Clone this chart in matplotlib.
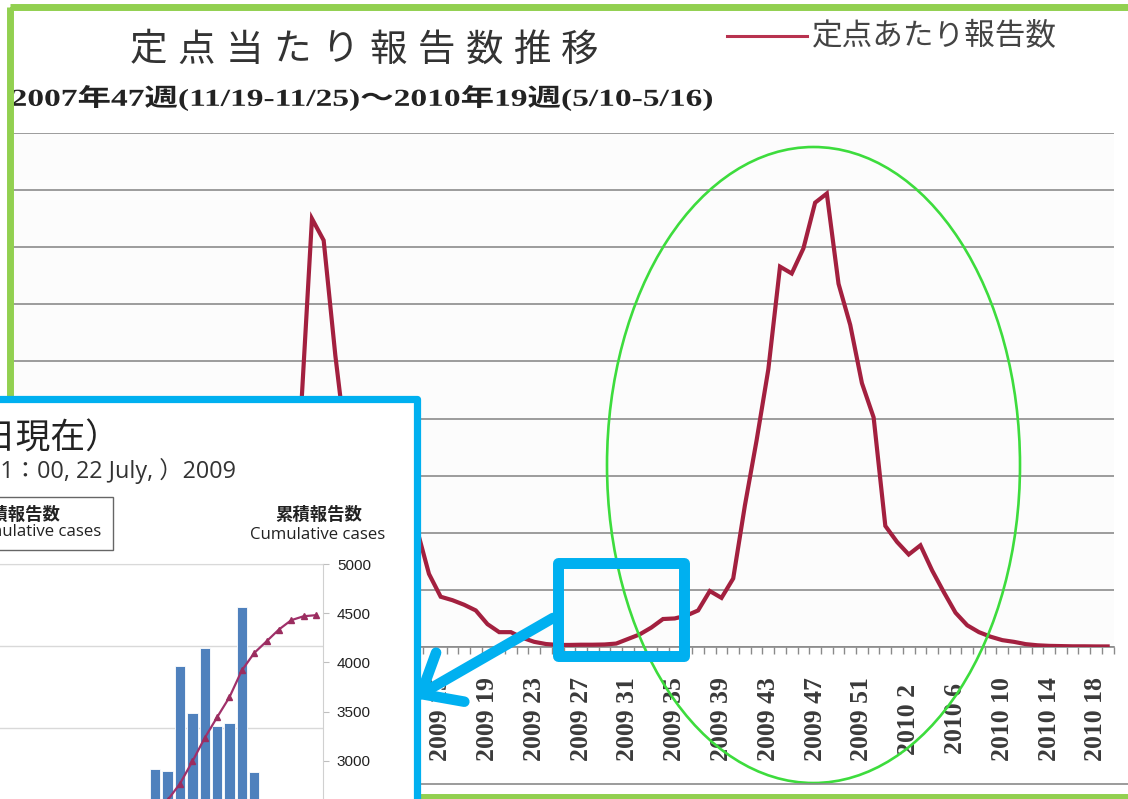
import matplotlib
matplotlib.use("Agg")
import matplotlib.pyplot as plt
from matplotlib.patches import Rectangle, Ellipse, PathPatch
from matplotlib.textpath import TextPath
from matplotlib.font_manager import FontProperties
from matplotlib.transforms import Affine2D
import numpy as np

W, H = 1128, 799
CJK = "Noto Sans CJK JP"
BLUE = "#00b0f0"

# 定点当たり報告数 (per sentinel), 2009年3週 .. 2010年19週
weeks = [f"2009 {w}" for w in range(3, 54)] + [f"2010 {w}" for w in range(1, 20)]
per_sentinel = [19.5, 37.5, 35.6, 25.5, 17.0, 14.5, 13.5, 13.0, 12.5, 12.0,
                10.2, 6.4, 4.4, 4.1, 3.7, 3.2, 2.0, 1.3, 1.3, 0.8,
                0.45, 0.26, 0.18, 0.18, 0.2, 0.2, 0.22, 0.3, 0.7, 1.1,
                1.7, 2.45, 2.5, 2.75, 3.2, 4.9, 4.3, 6.0, 12.4, 18.1,
                24.3, 33.3, 32.7, 34.9, 38.9, 39.7, 31.8, 28.2, 23.1, 20.1,
                10.6, 9.2, 8.1, 8.9, 6.7, 4.8, 3.0, 1.9, 1.3, 0.9,
                0.6, 0.45, 0.25, 0.15, 0.1, 0.08, 0.06, 0.06, 0.05, 0.05]

# inset: daily reports (bars) and cumulative reports (line)
inset_days = ["7/8", "7/9", "7/10", "7/11", "7/12", "7/13", "7/14",
              "7/15", "7/16", "7/17", "7/18", "7/19", "7/20", "7/21"]
daily_cases = [175, 174, 238, 209, 249, 201, 203, 274, 173, 122, 123, 96, 40, 11]
cumulative_cases = [2440, 2600, 2768, 2993, 3232, 3442, 3646, 3918, 4095,
                    4214, 4334, 4429, 4469, 4480]


def frac(x0, y0, x1, y1):
    # pixel box (origin top-left) -> figure fraction rect
    return [x0 / W, 1 - y1 / H, (x1 - x0) / W, (y1 - y0) / H]


def overlay(z):
    a = fig.add_axes([0, 0, 1, 1], zorder=z)
    a.set_xlim(0, W)
    a.set_ylim(H, 0)
    a.axis("off")
    a.patch.set_alpha(0)
    return a


def text_width(s, **kw):
    t = fig.text(0, 0, s, **kw)
    w = t.get_window_extent(fig.canvas.get_renderer()).width
    t.remove()
    return w


def path_text(a, s, x0, yc, width, height, fp, color):
    # text drawn as a path, stretched into a given pixel box
    tp = TextPath((0, 0), s, size=100, prop=fp)
    e = tp.get_extents()
    tr = (Affine2D().translate(-e.x0, -e.y0 - e.height / 2)
          .scale(width / e.width, -height / e.height).translate(x0, yc))
    a.add_patch(PathPatch(tr.transform_path(tp), fc=color, ec="none", clip_on=False))


fig = plt.figure(figsize=(W / 100, H / 100), dpi=100, facecolor="white")

# ---- background (scanned) chart ----
ax = fig.add_axes(frac(13, 133, 1113.5, 647), zorder=1)
ax.set_facecolor("#fcfcfc")
x = np.arange(len(weeks))
ax.plot(x, per_sentinel, color="#a3203f", lw=3.0, solid_joinstyle="miter", zorder=3)
ax.set_xlim(-24.55, len(weeks) - 0.5)
ax.set_ylim(0, 45)
ax.set_yticks(range(0, 50, 5))
ax.yaxis.grid(True, color="#9c9c9c", lw=1.4)
ax.tick_params(axis="y", length=0, labelleft=False)
for s in ["left", "right", "top"]:
    ax.spines[s].set_visible(False)
ax.spines["bottom"].set_color("#8a8a8a")
ax.spines["bottom"].set_linewidth(1.2)
ax.set_xticks([])
ax.set_xticks(np.arange(-24.5, len(weeks)), minor=True)
ax.tick_params(axis="x", which="minor", direction="out", length=5, color="#8a8a8a", width=1)
for k in range(12, len(weeks), 4):
    ax.text(k, -0.14, weeks[k], transform=ax.get_xaxis_transform(), rotation=90,
            ha="center", va="center", fontsize=18.5, family="Liberation Serif",
            weight="bold", color="#3a3a3a")

ov = overlay(2)
title = "定点当たり報告数推移"
for i, ch in enumerate(title):
    ov.text(148 + i * 48, 50, ch, fontsize=27, family=CJK, color="#333333",
            ha="center", va="center")
path_text(ov, "2007年47週(11/19-11/25)～2010年19週(5/10-5/16)", 12, 98, 700, 26,
          FontProperties(family=["Liberation Serif", CJK], weight="bold"), "#222222")
ov.plot([727, 807], [36, 36], color="#b8324f", lw=2.2)
leg = ov.text(812, 37, "定点あたり報告数", family=CJK, fontsize=18, color="#444444",
              ha="left", va="center")
leg.set_fontsize(18 * 245 / text_width("定点あたり報告数", family=CJK, fontsize=18))
ov.plot([420, 1128], [784, 784], color="#8a8a8a", lw=1.2)

# annotations drawn on the scan
ov.add_patch(Rectangle((9.5, 6.5), 1135 - 9.5, 797 - 6.5, fill=False,
                       ec="#92d050", lw=5, clip_on=False))
ov.add_patch(Ellipse((813.5, 465), 413, 636, fill=False, ec="#3ddc3d", lw=1.9))
ov.add_patch(Rectangle((557.5, 562.8), 126.3, 93.6, fill=False, ec=BLUE,
                       lw=7.9, joinstyle="round"))

# ---- inset panel ----
ov2 = overlay(3)
ov2.add_patch(Rectangle((-30, 398.5), 446.5, 450, fc="white", ec=BLUE, lw=5.2,
                        joinstyle="round", clip_on=False))

ax2 = fig.add_axes(frac(-20, 564, 323, 1056), zorder=4)
ax2.patch.set_alpha(0)
j = np.arange(len(inset_days))
ax2.bar(j, daily_cases, width=0.84, color="#4f81bd", edgecolor="#ffffff", lw=0.6)
ax2.set_xlim(-14.18, len(inset_days) - 0.43)
ax2.set_ylim(0, 300)
ax2.set_yticks(range(0, 301, 50))
ax2.yaxis.grid(True, color="#d9d9d9", lw=1)
ax2.set_axisbelow(True)
ax2.tick_params(left=False, labelleft=False, bottom=False, labelbottom=False)
for s in ["left", "bottom", "right"]:
    ax2.spines[s].set_visible(False)
ax2.spines["top"].set_color("#d9d9d9")

ax3 = ax2.twinx()
ax3.set_zorder(5)
ax3.patch.set_alpha(0)
ax3.plot(j, cumulative_cases, color="#a0306a", lw=1.6, marker="^", ms=4,
         markerfacecolor="#9b2d5f", markeredgecolor="#9b2d5f")
ax3.set_ylim(0, 5000)
ax3.set_yticks(range(3000, 5001, 500))
ax3.tick_params(axis="y", direction="out", length=4, color="#bfbfbf", pad=6,
                labelsize=11, labelcolor="#222222")
for lab in ax3.get_yticklabels():
    lab.set_family("Liberation Sans")
for s in ["left", "bottom", "top"]:
    ax3.spines[s].set_visible(False)
ax3.spines["right"].set_color("#d0d0d0")

ov3 = overlay(6)
fam = ["Open Sans", CJK]
ov3.text(120, 439, "新型インフルエンザ累積報告数（7月22日現在）", family=CJK, fontsize=25,
         color="#222222", ha="right", va="center")
sub_size = 13 * 234 / text_width("1：00, 22 July, ）2009", family=fam, fontsize=13)
ov3.text(236, 471, "(as of 11：00, 22 July, ）2009", family=fam, fontsize=sub_size,
         color="#333333", ha="right", va="center")
ov3.add_patch(Rectangle((-30, 497), 143, 53, fill=False, ec="#666666", lw=1,
                        clip_on=False))
ov3.text(60, 514.5, "累積報告数", family=CJK, weight="bold", fontsize=12.5,
         color="#222222", ha="right", va="center")
cum_size = 11.5 * 136 / text_width("Cumulative cases", family=fam, fontsize=11.5)
ov3.text(101, 532, "Cumulative cases", family=fam, fontsize=cum_size,
         color="#222222", ha="right", va="center")
ov3.text(319, 515, "累積報告数", family=CJK, weight="bold", fontsize=12.5,
         color="#222222", ha="center", va="center")
ov3.text(318, 535, "Cumulative cases", family=fam, fontsize=cum_size,
         color="#222222", ha="center", va="center")

# arrow from the blue box to the inset
tip = np.array([421.0, 694.0])
start = np.array([553.0, 618.0])
ov3.plot([start[0], tip[0]], [start[1], tip[1]], color=BLUE, lw=7.6,
         solid_capstyle="round")
back = (start - tip) / np.linalg.norm(start - tip)
for ang in (40, -40):
    t = np.radians(ang)
    d = np.array([back[0] * np.cos(t) - back[1] * np.sin(t),
                  back[0] * np.sin(t) + back[1] * np.cos(t)])
    end = tip + 44 * d
    ov3.plot([tip[0], end[0]], [tip[1], end[1]], color=BLUE, lw=7.6,
             solid_capstyle="round")

fig.savefig("out.png", dpi=100, facecolor="white")
